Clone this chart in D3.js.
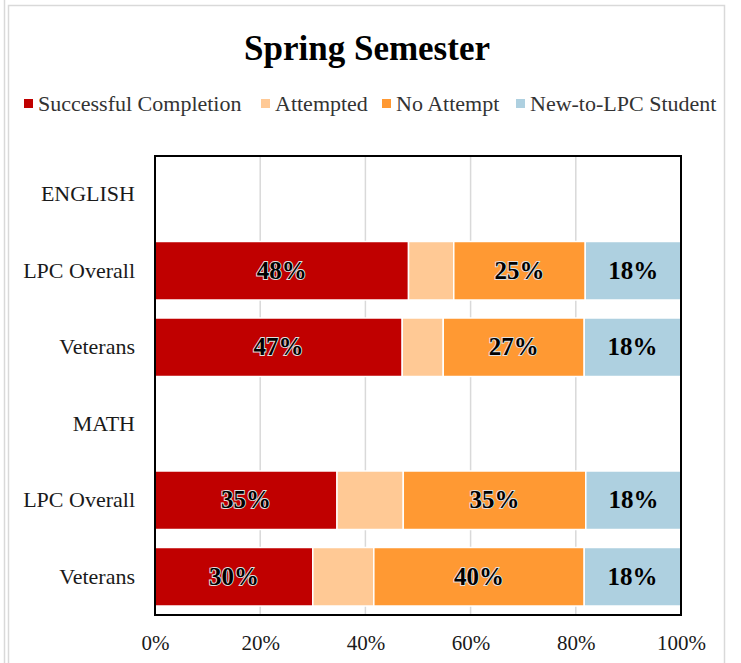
<!DOCTYPE html>
<html>
<head>
<meta charset="utf-8">
<script src="https://cdn.jsdelivr.net/npm/d3@7"></script>
<style>
  body { margin: 0; background: #fff; }
  svg text { font-family: "Liberation Serif", "Times New Roman", serif; }
</style>
</head>
<body>
<div id="chart"></div>
<script>
// Chart size (matches the window)
var svgWidth = 741;
var svgHeight = 663;

// Plot area inside the frame
var margin = { top: 156, right: 60, bottom: 48, left: 155 };
var width = 681 - margin.left;
var height = 615 - margin.top;

// Data (percent of students)
var rows = ["ENGLISH", "LPC Overall E", "Veterans E", "MATH", "LPC Overall M", "Veterans M"];
var rowLabels = ["ENGLISH", "LPC Overall", "Veterans", "MATH", "LPC Overall", "Veterans"];
var seriesNames = ["Successful Completion", "Attempted", "No Attempt", "New-to-LPC Student"];
var colors = ["#c00000", "#ffc995", "#ff9933", "#aed0e0"];
var successful = [null, 48.2, 47.0, null, 34.6, 30.0];
var attempted  = [null, 8.6, 7.8, null, 12.6, 11.6];
var noAttempt  = [null, 25.0, 26.8, null, 34.7, 40.0];
var newStudent = [null, 18.2, 18.4, null, 18.1, 18.4];
var xTicks = [0, 0.2, 0.4, 0.6, 0.8, 1.0];

var table = rows.map(function(r, i) {
  return {
    row: r,
    "Successful Completion": successful[i] || 0,
    "Attempted": attempted[i] || 0,
    "No Attempt": noAttempt[i] || 0,
    "New-to-LPC Student": newStudent[i] || 0,
    empty: successful[i] == null
  };
});

var svg = d3.select("#chart")
  .append("svg")
  .attr("width", svgWidth)
  .attr("height", svgHeight);

// outer frame lines
svg.append("line")
  .attr("x1", 4.5).attr("x2", 4.5).attr("y1", 0).attr("y2", svgHeight)
  .attr("stroke", "#d9d9d9").attr("stroke-width", 1.5);
svg.append("path")
  .attr("d", "M8.5," + svgHeight + "V5.5H724.5V" + svgHeight)
  .attr("fill", "none")
  .attr("stroke", "#d9d9d9").attr("stroke-width", 1.5);

// Title
svg.append("text")
  .attr("x", 367).attr("y", 60)
  .attr("text-anchor", "middle")
  .attr("font-size", 35)
  .attr("font-weight", "bold")
  .attr("fill", "#000")
  .text("Spring Semester");

// Legend
var legendX = [24, 261, 382, 516];
var legend = svg.append("g");
seriesNames.forEach(function(name, i) {
  legend.append("rect")
    .attr("x", legendX[i]).attr("y", 99)
    .attr("width", 9).attr("height", 9)
    .attr("fill", colors[i]);
  legend.append("text")
    .attr("x", legendX[i] + 14).attr("y", 111)
    .attr("font-size", 22)
    .attr("fill", "#333")
    .text(name);
});

var chartGroup = svg.append("g")
  .attr("transform", `translate(${margin.left}, ${margin.top})`);

var xScale = d3.scaleLinear().domain([0, 100]).range([0, width]);
var yScale = d3.scaleBand().domain(rows).range([0, height]).paddingInner(0.235).paddingOuter(0.1175);

// gridlines
chartGroup.append("g")
  .selectAll("line")
  .data(xTicks.slice(1, -1))
  .join("line")
  .attr("x1", d => xScale(d * 100)).attr("x2", d => xScale(d * 100))
  .attr("y1", 0).attr("y2", height)
  .attr("stroke", "#d9d9d9").attr("stroke-width", 1.5);

// stacked bars
var stack = d3.stack().keys(seriesNames);
var stacked = stack(table);

var layers = chartGroup.selectAll("g.layer")
  .data(stacked)
  .join("g")
  .attr("class", "layer")
  .attr("fill", (d, i) => colors[i]);

layers.selectAll("rect")
  .data(d => d.filter(p => !p.data.empty))
  .join("rect")
  .attr("x", d => xScale(d[0]))
  .attr("y", d => yScale(d.data.row))
  .attr("width", d => xScale(d[1]) - xScale(d[0]))
  .attr("height", yScale.bandwidth())
  .attr("stroke", "#fff")
  .attr("stroke-width", 1.5);

// value labels (not on the Attempted segment)
stacked.forEach(function(layer, i) {
  if (i == 1) return;
  chartGroup.append("g")
    .selectAll("text")
    .data(layer.filter(p => !p.data.empty))
    .join("text")
    .attr("x", d => xScale((d[0] + d[1]) / 2))
    .attr("y", d => yScale(d.data.row) + yScale.bandwidth() / 2 + 8)
    .attr("text-anchor", "middle")
    .attr("font-size", 25)
    .attr("font-weight", "bold")
    .attr("fill", "#000")
    .attr("stroke", i == 3 ? "none" : "#e0e0e0")
    .attr("stroke-width", 1.8)
    .attr("paint-order", "stroke")
    .text(d => Math.round(d[1] - d[0]) + "%");
});

// plot border
chartGroup.append("rect")
  .attr("x", 0).attr("y", 0)
  .attr("width", width).attr("height", height)
  .attr("fill", "none")
  .attr("stroke", "#000")
  .attr("stroke-width", 2);

// y labels
chartGroup.append("g")
  .selectAll("text")
  .data(rows)
  .join("text")
  .attr("x", -20)
  .attr("y", d => yScale(d) + yScale.bandwidth() / 2 + 7)
  .attr("text-anchor", "end")
  .attr("font-size", 22)
  .attr("fill", "#1a1a1a")
  .text((d, i) => rowLabels[i]);

// x axis labels
var bottomAxis = d3.axisBottom(xScale)
  .tickValues(xTicks.map(d => d * 100))
  .tickFormat(d => d + "%")
  .tickSize(0)
  .tickPadding(20);

var xAxis = chartGroup.append("g")
  .attr("transform", `translate(0, ${height})`)
  .call(bottomAxis);
xAxis.select(".domain").remove();
xAxis.selectAll("text")
  .attr("font-size", 21)
  .attr("font-family", "Liberation Serif, Times New Roman, serif")
  .attr("fill", "#1a1a1a");
</script>
</body>
</html>
